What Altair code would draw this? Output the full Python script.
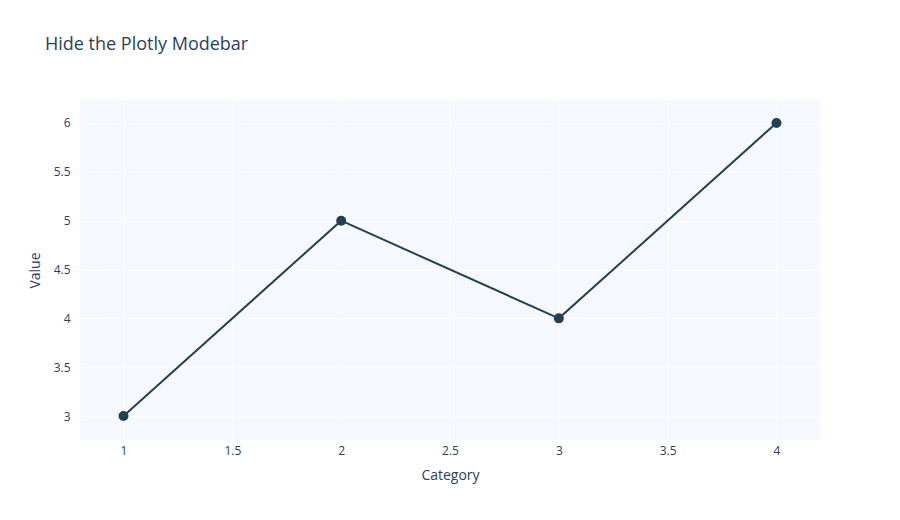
import altair as alt
import pandas as pd

categories = [1, 2, 3, 4]
values = [3, 5, 4, 6]
x_ticks = [1, 1.5, 2, 2.5, 3, 3.5, 4]
y_ticks = [3, 3.5, 4, 4.5, 5, 5.5, 6]

df = pd.DataFrame({"Category": categories, "Value": values})

FONT = "Open Sans"
TXT = "#2a3f5f"
LINE = "#22404f"

x = alt.X("Category:Q", scale=alt.Scale(domain=[0.8, 4.2], nice=False, zero=False),
          axis=alt.Axis(values=x_ticks, title="Category", grid=True, gridColor="white",
                        gridWidth=1, domain=False, ticks=False, labelPadding=5,
                        format="~g",
                        labelFontSize=12, labelColor=TXT, labelFont=FONT,
                        titleFontSize=14, titleColor=TXT, titleFont=FONT,
                        titleFontWeight="normal", titlePadding=12, labelFlush=False))
y = alt.Y("Value:Q", scale=alt.Scale(domain=[2.755, 6.235], nice=False, zero=False),
          axis=alt.Axis(values=y_ticks, title="Value", grid=True, gridColor="white",
                        gridWidth=1, domain=False, ticks=False, labelPadding=10,
                        format="~g",
                        labelFontSize=12, labelColor=TXT, labelFont=FONT,
                        titleFontSize=14, titleColor=TXT, titleFont=FONT,
                        titleFontWeight="normal", titlePadding=11, labelFlush=False))

base = alt.Chart(df).encode(x=x, y=y)
line = base.mark_line(color=LINE, strokeWidth=2)
pts = base.mark_circle(color=LINE, size=100, opacity=1)

chart = (line + pts).properties(
    width=740, height=340,
    title=alt.TitleParams("Hide the Plotly Modebar", anchor="start", frame="group",
                          fontSize=18, font=FONT, color=TXT, fontWeight="normal",
                          dx=-35, offset=46),
    padding={"left": 72, "top": 92, "right": 72, "bottom": 72},
    autosize=alt.AutoSizeParams(type="none"),
    background="white",
).configure_view(fill="#f5f9ff", stroke=None)

chart.save("out.html", embed_options={"renderer": "svg", "actions": False})
